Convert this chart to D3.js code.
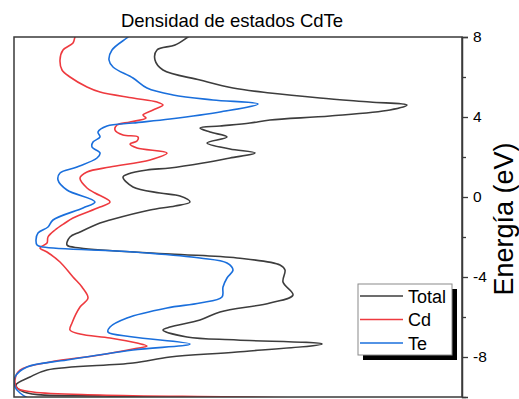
<!DOCTYPE html>
<html>
<head>
<meta charset="utf-8">
<script src="https://cdn.jsdelivr.net/npm/d3@7"></script>
<style>
  html, body { margin: 0; padding: 0; background: #fff; }
  svg { display: block; }
  text { font-family: Arial, "Liberation Sans", sans-serif; fill: #000; }
</style>
</head>
<body>
<svg id="chart" width="519" height="399"></svg>
<script>
// Projected density of states of CdTe: [energy (eV), DOS (states/eV)]
const total = [
  [8.2,1.80],[8.0,1.74],[7.6,1.61],[7.35,1.43],[6.85,1.41],[6.35,1.49],[5.85,1.86],[5.45,2.19],
  [5.2,2.56],[4.95,3.06],[4.75,3.56],[4.6,3.93],[4.35,3.76],[4.05,3.16],[3.85,2.56],
  [3.7,2.36],[3.55,2.06],[3.45,1.86],[3.25,1.96],[3.0,2.13],[2.7,1.93],[2.4,2.16],
  [2.2,2.41],[1.95,2.16],[1.7,1.89],[1.45,1.56],[1.35,1.33],[1.15,1.14],[1.0,1.09],
  [0.5,1.19],[0.2,1.46],[0.05,1.66],[-0.25,1.76],[-0.45,1.61],[-0.65,1.36],[-1.15,0.96],
  [-1.3,0.86],[-1.75,0.66],[-2.0,0.56],[-2.4,0.53],[-2.55,0.66],[-2.85,1.56],[-3.05,2.23],
  [-3.4,2.66],[-3.65,2.71],[-4.25,2.69],[-4.9,2.79],[-5.3,2.56],[-5.75,2.06],[-6.15,1.86],
  [-6.5,1.56],[-6.65,1.49],[-7.0,1.73],[-7.15,2.23],[-7.35,3.08],[-7.75,2.23],[-8.0,1.56],
  [-8.3,1.19],[-8.65,0.33],[-9.0,0.16],[-9.4,0.02],[-9.75,0.1],[-9.95,0.9],[-10.05,3.0],[-10.2,5.0]
];
const cd = [
  [8.2,0.63],[8.0,0.61],[7.7,0.59],[7.35,0.49],[6.85,0.46],[6.35,0.48],[6.0,0.56],[5.5,0.73],
  [5.25,0.86],[4.95,1.19],[4.75,1.43],[4.6,1.49],[4.35,1.39],[4.1,1.29],[3.95,1.32],
  [3.75,1.16],[3.6,1.03],[3.35,1.01],[3.1,1.09],[3.0,1.24],[2.8,1.23],[2.65,1.16],
  [2.45,1.23],[2.2,1.53],[1.85,1.36],[1.5,0.96],[1.25,0.73],[0.95,0.66],[0.45,0.73],
  [0.2,0.81],[-0.25,0.96],[-0.5,0.86],[-1.05,0.59],[-1.3,0.51],[-1.65,0.41],[-2.0,0.34],
  [-2.3,0.33],[-2.55,0.26],[-2.75,0.33],[-3.25,0.46],[-4.0,0.59],[-4.5,0.68],[-5.05,0.74],
  [-5.5,0.66],[-6.3,0.58],[-6.65,0.56],[-6.85,0.66],[-7.05,0.96],[-7.3,1.23],[-7.45,1.33],
  [-7.6,1.19],[-7.9,0.86],[-8.25,0.36],[-8.65,0.06],[-9.15,0.01],[-9.55,0.03],[-9.75,0.19],
  [-9.9,0.86],[-10.0,2.19],[-10.2,5.0]
];
const te = [
  [8.2,1.18],[8.0,1.14],[7.35,0.98],[6.85,0.95],[6.5,0.99],[5.95,1.19],[5.45,1.33],[5.1,1.59],
  [4.85,1.99],[4.65,2.44],[4.25,2.06],[3.9,1.56],[3.7,1.19],[3.55,0.93],[3.25,0.84],
  [3.0,0.86],[2.75,0.79],[2.5,0.78],[2.2,0.86],[1.95,0.83],[1.5,0.63],[1.2,0.46],
  [0.85,0.44],[0.35,0.53],[-0.25,0.81],[-0.55,0.69],[-1.15,0.39],[-1.5,0.34],[-1.8,0.24],
  [-2.15,0.22],[-2.4,0.23],[-2.5,0.29],[-2.75,1.19],[-3.05,1.86],[-3.3,2.13],[-3.65,2.19],
  [-4.05,2.13],[-4.5,2.09],[-5.0,2.08],[-5.3,1.86],[-5.55,1.53],[-6.05,1.13],[-6.5,0.96],
  [-6.75,0.94],[-7.0,1.19],[-7.35,1.76],[-7.65,1.19],[-8.15,0.53],[-8.5,0.13],[-9.0,0.01],
  [-9.5,0.01],[-9.8,0.06],[-10.15,0.19],[-10.4,0.6]
];

const seriesNames = ["Total", "Cd", "Te"];
const seriesColors = ["#3d3d3d", "#ee3a3f", "#1a6fdc"];
const seriesData = [total, cd, te];

const energyMajorTicks = [8, 4, 0, -4, -8];
const energyMinorTicks = [6, 2, -2, -6, -10];

const title = "Densidad de estados CdTe";
const yTitle = "Energía (eV)";

const svg = d3.select("#chart");
const plot = { left: 14, right: 462, top: 37, bottom: 397 };

const x = d3.scaleLinear().domain([0, 4.48]).range([plot.left, plot.right]);
const y = d3.scaleLinear().domain([-10, 8]).range([plot.bottom, plot.top]);

svg.append("defs").append("clipPath").attr("id", "plot-clip")
  .append("rect")
  .attr("x", plot.left).attr("y", plot.top)
  .attr("width", plot.right - plot.left).attr("height", plot.bottom - plot.top);

// DOS curves, energy on the vertical axis
const line = d3.line()
  .x(d => x(Math.max(0, d[1])))
  .y(d => y(d[0]))
  .curve(d3.curveCatmullRom.alpha(0.5));

const curves = svg.append("g").attr("clip-path", "url(#plot-clip)");
seriesData.forEach((data, i) => {
  curves.append("path")
    .datum(data)
    .attr("fill", "none")
    .attr("stroke", seriesColors[i])
    .attr("stroke-width", 1.6)
    .attr("stroke-linejoin", "round")
    .attr("d", line);
});

// Frame
svg.append("rect")
  .attr("x", plot.left).attr("y", plot.top)
  .attr("width", plot.right - plot.left).attr("height", plot.bottom - plot.top)
  .attr("fill", "none").attr("stroke", "#3a3a3a").attr("stroke-width", 1.5);

// Energy axis on the right
const axisMajor = d3.axisRight(y).tickValues(energyMajorTicks).tickSize(6).tickPadding(5)
  .tickFormat(d => String(d));
const gMajor = svg.append("g").attr("transform", `translate(${plot.right},0)`).call(axisMajor);
gMajor.select(".domain").attr("stroke", "#3a3a3a").attr("stroke-width", 1.5);
gMajor.selectAll(".tick line").attr("stroke", "#3a3a3a").attr("stroke-width", 1.3);
gMajor.selectAll(".tick text")
  .attr("font-family", "Arial, 'Liberation Sans', sans-serif")
  .attr("font-size", 15.5).attr("fill", "#000");

const axisMinor = d3.axisRight(y).tickValues(energyMinorTicks).tickSize(4).tickFormat("");
const gMinor = svg.append("g").attr("transform", `translate(${plot.right},0)`).call(axisMinor);
gMinor.select(".domain").remove();
gMinor.selectAll(".tick line").attr("stroke", "#3a3a3a").attr("stroke-width", 1.3);

// Axis title
svg.append("text")
  .attr("transform", `translate(513,${(plot.top + plot.bottom) / 2 + 2}) rotate(-90)`)
  .attr("text-anchor", "middle")
  .attr("font-size", 27)
  .text(yTitle);

// Chart title
svg.append("text")
  .attr("x", 232).attr("y", 27)
  .attr("text-anchor", "middle")
  .attr("font-size", 18.5)
  .text(title);

// Legend with drop shadow
const legend = svg.append("g").attr("transform", "translate(358,284)");
const lw = 94, lh = 71;
legend.append("rect").attr("x", 5).attr("y", 5).attr("width", lw).attr("height", lh).attr("fill", "#000");
legend.append("rect").attr("x", 0).attr("y", 0).attr("width", lw).attr("height", lh)
  .attr("fill", "#fff").attr("stroke", "#8a8a8a").attr("stroke-width", 1);
seriesNames.forEach((name, i) => {
  const cy = 12 + i * 23.5;
  legend.append("line")
    .attr("x1", 2).attr("x2", 45).attr("y1", cy).attr("y2", cy)
    .attr("stroke", seriesColors[i]).attr("stroke-width", 1.6);
  legend.append("text")
    .attr("x", 50).attr("y", cy + 6.5)
    .attr("font-size", 18)
    .text(name);
});
</script>
</body>
</html>
